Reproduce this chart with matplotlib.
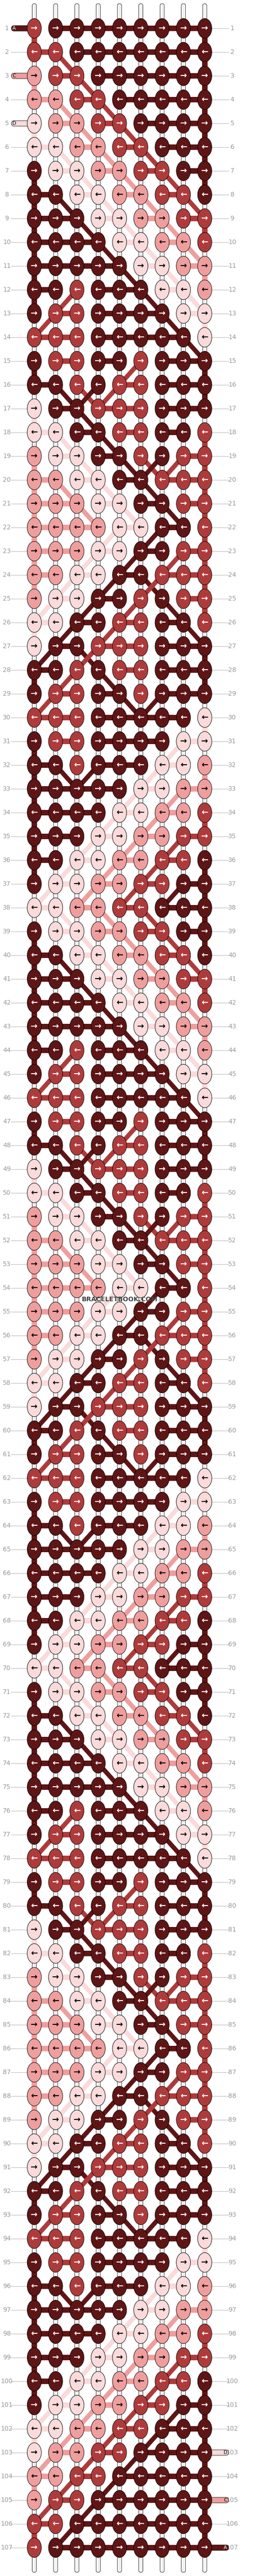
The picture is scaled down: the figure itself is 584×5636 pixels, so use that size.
import matplotlib
matplotlib.use("Agg")
import matplotlib.pyplot as plt
from matplotlib.patches import Ellipse, Rectangle, FancyBboxPatch

# Knot colours per row (columns 1..9), letters = thread colour
start_rows = ["BAAAAAAAA", "BBAAAAAAA", "CBBAAAAAA", "CCBBAAAAA", "DCCBBAAAA"]
period_rows = [
    "DDCCBBAAA", "ADDCCBBAA", "AADDCCBBA", "AAADDCCBB", "AAAADDCCB",
    "AAAAADDCC", "AABAAADDC", "ABBAAAADD", "BBBAAAAAD", "ABBAABAAA",
    "AABABBAAA", "DAABBBAAA", "DDAABBAAB", "CDDAABABB", "CCDDAABBB",
    "CCCDDAABB", "CCCCDDAAB", "CCCDDAABB", "CCDDAABBB", "CDDAABABB",
    "DDAABBAAB", "DAABBBAAA", "AABABBAAA", "ABBAABAAA", "BBBAAAAAD",
    "ABBAAAADD", "AABAAADDC", "AAAAADDCC", "AAAADDCCB", "AAADDCCBB",
    "AADDCCBBA", "ADDCCBBAA",
]
n_repeats = 3
last_period_row = ["DDCCBBAAA"]
end_rows = ["DCCBBAAAA", "CCBBAAAAA", "CBBAAAAAA", "BBAAAAAAA", "BAAAAAAAA"]
rows = start_rows + period_rows * n_repeats + last_period_row + end_rows

colors = {"A": "#5E1516", "B": "#AE3B3B", "C": "#EF9E9E", "D": "#FADADA"}
text_col = {"A": "white", "B": "white", "C": "black", "D": "black"}
left_labels = {1: "A", 3: "C", 5: "D"}
right_labels = {107: "A", 105: "C", 103: "D"}

W, H = 584, 5636
fig = plt.figure(figsize=(W / 100, H / 100), dpi=100)
ax = fig.add_axes([0, 0, 1, 1])
ax.set_xlim(0, W)
ax.set_ylim(H, 0)
ax.axis("off")

nrows = len(rows)
ncols = 9
X0, DX = 75, 46.6
Y0, DY = 62, 52.0
cx = [X0 + DX * c for c in range(ncols)]
ry = [Y0 + DY * r for r in range(nrows)]
px = 0.72  # points per pixel

# vertical white strings
for x in cx:
    ax.add_patch(FancyBboxPatch((x - 4.5, 8), 9, H - 16, boxstyle="round,pad=0,rounding_size=4.5",
                                fc="white", ec="black", lw=0.6, zorder=1))
    ax.plot([x, x], [10, H - 10], color="#cccccc", lw=0.5, zorder=1.1)

# row labels and gray guide lines
for i, y in enumerate(ry):
    n = i + 1
    ax.text(15, y, str(n), ha="center", va="center", color="#999999", fontsize=10, zorder=2)
    ax.text(508, y, str(n), ha="center", va="center", color="#999999", fontsize=10, zorder=2)
    ax.plot([24, 60], [y, y], color="#bbbbbb", lw=0.8, zorder=1)
    ax.plot([463, 500], [y, y], color="#bbbbbb", lw=0.8, zorder=1)

# end stubs with labels
for n, lab in left_labels.items():
    y = ry[n - 1]
    ax.add_patch(FancyBboxPatch((25, y - 6), 45, 12, boxstyle="round,pad=0,rounding_size=6",
                                fc=colors[lab], ec="black", lw=0.6, zorder=2))
    ax.text(31, y, lab, ha="center", va="center", fontsize=8, color=text_col[lab], zorder=3)
for n, lab in right_labels.items():
    y = ry[n - 1]
    ax.add_patch(FancyBboxPatch((455, y - 6), 45, 12, boxstyle="round,pad=0,rounding_size=6",
                                fc=colors[lab], ec="black", lw=0.6, zorder=2))
    ax.text(493, y, lab, ha="center", va="center", fontsize=8, color=text_col[lab], zorder=3)

# connectors
for r in range(nrows):
    row = rows[r]
    for c in range(ncols - 1):
        if row[c] == row[c + 1]:
            ax.add_patch(Rectangle((cx[c], ry[r] - 6), DX, 12, fc=colors[row[c]],
                                   ec="none", zorder=3))
    if r + 1 < nrows:
        nxt = rows[r + 1]
        for c in range(ncols):
            col = row[c]
            if nxt[c] == col and (c == 0 or c == ncols - 1):
                ax.add_patch(Rectangle((cx[c] - 6, ry[r]), 12, DY, fc=colors[col], ec="none", zorder=2.5))
                continue
            d = 1 if r % 2 == 0 else -1
            for dd in (d, -d):
                c2 = c + dd
                if 0 <= c2 < ncols and nxt[c2] == col and row[c2] != col:
                    ax.plot([cx[c], cx[c2]], [ry[r], ry[r + 1]], color=colors[col],
                            lw=10 * px, solid_capstyle="butt", zorder=2.6)
                    break

# knots
for r in range(nrows):
    for c in range(ncols):
        k = rows[r][c]
        ax.add_patch(Ellipse((cx[c], ry[r]), 31, 43, fc=colors[k], ec="black", lw=0.7, zorder=4))
        arrow = "\u2192" if r % 2 == 0 else "\u2190"
        ax.text(cx[c], ry[r], arrow, ha="center", va="center", fontsize=13, fontweight="bold",
                color=text_col[k], zorder=5)

ax.text(262, 2843, "BRACELETBOOK.COM", ha="center", va="center", fontsize=10,
        fontweight="bold", color="#444444", zorder=6)

fig.savefig("out.png", dpi=100)
